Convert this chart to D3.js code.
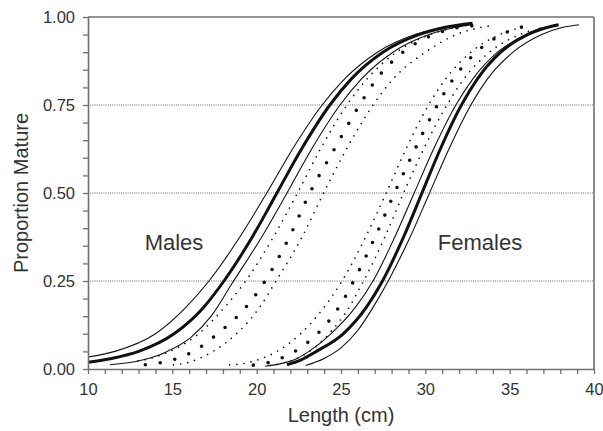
<!DOCTYPE html>
<html>
<head>
<meta charset="utf-8">
<script src="https://cdn.jsdelivr.net/npm/d3@7"></script>
<style>
  html, body { margin: 0; padding: 0; background: #fff; }
  svg { display: block; font-family: "Liberation Sans", Arial, Helvetica, sans-serif; }
</style>
</head>
<body>
<svg id="chart" width="603" height="431"></svg>
<script>
// Axis ranges and tick labels
const xDomain = [10, 40];
const yDomain = [0, 1];
const xTickLabels = [10, 15, 20, 25, 30, 35, 40];
const yTickLabels = [0.00, 0.25, 0.50, 0.75, 1.00];
const gridLevels = [0.25, 0.50, 0.75];
const groupLabels = ["Males", "Females"];

// Maturity ogives: [length (cm), proportion mature]
// Males, solid: upper bound, fitted, lower bound
const maleSolidUpper = [[10,0.034],[11.6,0.05],[14.0,0.10],[15.8,0.175],[17.17,0.25],[19.0,0.375],[20.6,0.5],[22.13,0.625],[23.88,0.75],[25.23,0.825],[27.16,0.9],[29.39,0.95],[30.98,0.97],[31.6,0.976]];
const maleSolidFit   = [[10,0.019],[11.4,0.03],[13.0,0.05],[15.1,0.10],[16.85,0.175],[18.06,0.25],[19.74,0.375],[21.2,0.5],[22.66,0.625],[24.34,0.75],[25.63,0.825],[27.48,0.9],[29.61,0.95],[31.13,0.97],[32.8,0.982]];
const maleSolidLower = [[11.3,0.012],[13.1,0.024],[14.7,0.05],[16.1,0.09],[17.3,0.15],[18.5,0.24],[20.3,0.375],[21.8,0.5],[23.26,0.625],[24.94,0.75],[26.23,0.825],[28.08,0.9],[30.21,0.95],[31.73,0.97],[32.8,0.979]];
// Males, dotted: upper bound, fitted, lower bound
const maleDotUpper = [[12.96,0.023],[13.7,0.03],[14.85,0.05],[16.55,0.10],[18.09,0.175],[19.35,0.25],[20.99,0.375],[22.42,0.5],[23.78,0.625],[25.35,0.75],[26.56,0.825],[28.28,0.9],[30.27,0.95],[31.69,0.97],[32.7,0.978]];
const maleDotFit   = [[13.4,0.012],[14.3,0.018],[15.3,0.03],[16.25,0.05],[17.68,0.10],[19.35,0.175],[20.5,0.25],[21.94,0.375],[23.15,0.5],[24.61,0.625],[26.1,0.75],[27.13,0.825],[28.67,0.9],[30.5,0.95],[31.9,0.97],[32.8,0.975]];
const maleDotLower = [[15.07,0.012],[16.06,0.02],[16.6,0.03],[17.4,0.05],[18.8,0.10],[20.17,0.175],[21.15,0.25],[22.69,0.375],[23.97,0.5],[25.33,0.625],[26.9,0.75],[28.11,0.825],[30.0,0.9],[31.82,0.95],[33.24,0.97],[34.0,0.976]];
// Females, dotted: upper bound, fitted, lower bound
const femaleDotUpper = [[18.4,0.012],[19.4,0.017],[20.3,0.03],[21.2,0.05],[22.6,0.10],[23.99,0.175],[25.06,0.25],[26.46,0.375],[27.68,0.5],[28.85,0.625],[30.19,0.75],[31.22,0.825],[32.7,0.9],[34.4,0.95],[35.62,0.97],[36.0,0.975]];
const femaleDotFit   = [[19.8,0.011],[20.75,0.019],[21.6,0.034],[22.4,0.054],[23.14,0.08],[24.0,0.12],[25.0,0.185],[25.86,0.26],[27.07,0.38],[28.17,0.5],[29.34,0.62],[30.59,0.739],[31.6,0.82],[32.66,0.883],[34.14,0.94],[35.82,0.973]];
const femaleDotLower = [[20.8,0.01],[21.8,0.02],[22.6,0.035],[23.67,0.07],[24.36,0.104],[24.96,0.139],[25.51,0.177],[26.0,0.22],[26.34,0.25],[27.6,0.375],[28.71,0.5],[29.9,0.625],[31.28,0.75],[32.3,0.825],[33.8,0.9],[35.6,0.95],[36.5,0.965]];
// Females, solid: upper bound, fitted, lower bound
const femaleSolidUpper = [[20.5,0.008],[21.5,0.016],[22.4,0.03],[23.1,0.05],[24.4,0.10],[25.85,0.175],[26.9,0.25],[28.19,0.375],[29.34,0.5],[30.49,0.625],[31.81,0.75],[32.83,0.825],[34.28,0.9],[35.96,0.95],[36.9,0.97]];
const femaleSolidFit   = [[21.8,0.012],[22.6,0.025],[23.54,0.05],[25.13,0.10],[26.5,0.175],[27.46,0.25],[28.71,0.375],[29.8,0.5],[30.89,0.625],[32.14,0.75],[33.1,0.825],[34.47,0.9],[36.06,0.95],[37.2,0.97],[37.9,0.978]];
const femaleSolidLower = [[22.9,0.01],[24.0,0.03],[25.0,0.06],[26.0,0.11],[26.9,0.175],[27.8,0.25],[29.1,0.375],[30.25,0.5],[31.4,0.625],[32.7,0.75],[33.7,0.825],[35.2,0.9],[36.9,0.95],[38.1,0.97],[39.1,0.978]];

const svg = d3.select("#chart");
const margin = { left: 88, right: 9, top: 17, bottom: 62 };
const W = 603, H = 431;
const x = d3.scaleLinear().domain(xDomain).range([margin.left, W - margin.right]);
const y = d3.scaleLinear().domain(yDomain).range([H - margin.bottom, margin.top]);

const axisColor = "#707070";
const textColor = "#333";

// Dotted reference lines
svg.append("g").selectAll("line").data(gridLevels).join("line")
  .attr("x1", x(xDomain[0])).attr("x2", x(xDomain[1]))
  .attr("y1", d => y(d)).attr("y2", d => y(d))
  .attr("stroke", "#666").attr("stroke-width", 1)
  .attr("stroke-dasharray", "1,1.2");

// Curves
const line = d3.line().x(d => x(d[0])).y(d => y(d[1])).curve(d3.curveMonotoneX);
const thin = { width: 1.1, dash: null, cap: "butt" };
const thick = { width: 3, dash: null, cap: "butt" };
const smallDots = { width: 1.7, dash: "0,7.2", cap: "round" };
const bigDots = { width: 3.6, dash: "0,15", cap: "round" };
const curves = [
  [maleSolidUpper, thin], [maleSolidFit, thick], [maleSolidLower, thin],
  [maleDotUpper, smallDots], [maleDotFit, bigDots], [maleDotLower, smallDots],
  [femaleDotUpper, smallDots], [femaleDotFit, bigDots], [femaleDotLower, smallDots],
  [femaleSolidUpper, thin], [femaleSolidFit, thick], [femaleSolidLower, thin]
];
svg.append("g").selectAll("path").data(curves).join("path")
  .attr("d", d => line(d[0]))
  .attr("fill", "none")
  .attr("stroke", "#111")
  .attr("stroke-width", d => d[1].width)
  .attr("stroke-linecap", d => d[1].cap)
  .attr("stroke-dasharray", d => d[1].dash);

// Axes
const xAxis = d3.axisBottom(x)
  .tickValues(d3.range(xDomain[0], xDomain[1] + 1, 1))
  .tickSize(5).tickSizeOuter(0).tickPadding(9)
  .tickFormat(d => xTickLabels.includes(d) ? d : "");
const yAxis = d3.axisLeft(y)
  .tickValues(d3.range(0, 21).map(i => i / 20))
  .tickSize(5).tickSizeOuter(0).tickPadding(8)
  .tickFormat(d => yTickLabels.some(v => Math.abs(v - d) < 1e-9) ? d3.format(".2f")(d) : "");

const gx = svg.append("g").attr("transform", `translate(0,${y(0)})`).call(xAxis);
const gy = svg.append("g").attr("transform", `translate(${x(xDomain[0])},0)`).call(yAxis);
[gx, gy].forEach(g => {
  g.select(".domain").attr("stroke", axisColor).attr("stroke-width", 1.6);
  g.selectAll(".tick line").attr("stroke", axisColor).attr("stroke-width", 1.3);
  g.selectAll(".tick text").attr("fill", textColor).attr("font-size", 16.5)
    .attr("font-family", "'Liberation Sans', Arial, sans-serif");
});

// Frame top and right
svg.append("line").attr("x1", x(xDomain[0])).attr("x2", x(xDomain[1]))
  .attr("y1", y(1)).attr("y2", y(1)).attr("stroke", axisColor).attr("stroke-width", 1.6);
svg.append("line").attr("x1", x(xDomain[1])).attr("x2", x(xDomain[1]))
  .attr("y1", y(1)).attr("y2", y(0)).attr("stroke", axisColor).attr("stroke-width", 1.6);

// Axis titles
svg.append("text").attr("x", x(25)).attr("y", 422)
  .attr("text-anchor", "middle").attr("fill", textColor).attr("font-size", 20)
  .text("Length (cm)");
svg.append("text").attr("transform", `translate(28,${y(0.5)}) rotate(-90)`)
  .attr("text-anchor", "middle").attr("fill", textColor).attr("font-size", 20)
  .text("Proportion Mature");

// Group labels
svg.append("text").attr("x", 174).attr("y", 250).attr("text-anchor", "middle")
  .attr("fill", textColor).attr("font-size", 22).text(groupLabels[0]);
svg.append("text").attr("x", 480).attr("y", 250).attr("text-anchor", "middle")
  .attr("fill", textColor).attr("font-size", 22).text(groupLabels[1]);
</script>
</body>
</html>
